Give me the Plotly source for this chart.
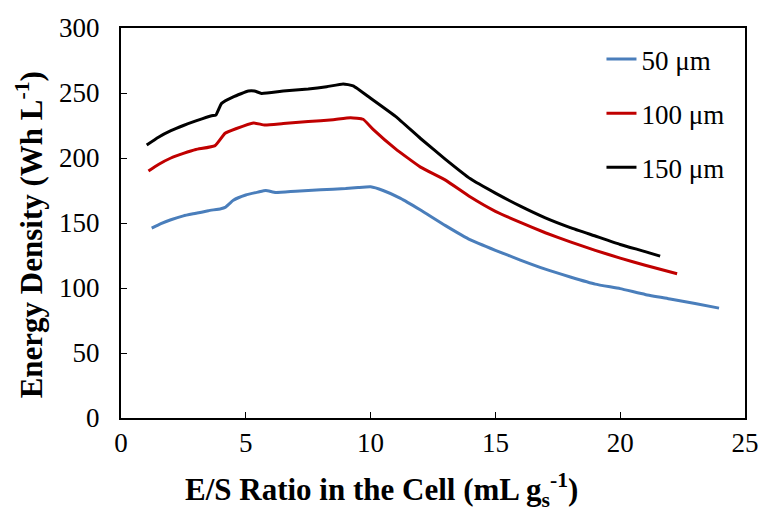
import plotly.graph_objects as go

# 50 um
x50 = [1.23, 1.6, 2.0, 2.5, 3.0, 3.5, 4.0, 4.17, 4.5, 5.0, 5.5, 5.8, 6.2, 7.0, 8.0, 9.0, 9.5, 10.0,
       10.5, 11.2, 12.0, 13.0, 14.0, 15.0, 16.0, 17.0, 18.0, 19.0, 20.0, 21.0, 22.0, 23.0, 23.96]
y50 = [146, 149.5, 152.5, 155.5, 157.5, 159.5, 161, 162, 167.5, 171.5, 173.8, 175, 173.5, 174.5, 175.5, 176.5, 177.3, 177.8,
       175, 169, 160, 148, 137, 129, 121.5, 114.5, 108.5, 103, 99.5, 95, 91.5, 88, 84.5]

# 100 um
x100 = [1.1, 1.5, 2.0, 2.5, 3.0, 3.77, 4.17, 4.6, 5.3, 5.77, 6.5, 7.5, 8.5, 9.2, 9.7, 10.1,
        11.0, 12.0, 13.0, 14.0, 15.0, 16.0, 17.0, 18.0, 19.0, 20.0, 21.0, 22.28]
y100 = [190, 195, 200, 203.5, 206.5, 209.5, 219, 222.5, 227, 225.3, 226.5, 228, 229.5, 231, 229.8, 222,
        207, 193, 183, 170, 159, 150.5, 142.5, 135.5, 129, 123, 117.5, 111]

# 150 um
x150 = [1.03, 1.5, 2.0, 2.5, 3.0, 3.63, 3.8, 4.03, 4.5, 5.1, 5.35, 5.63, 6.5, 7.5, 8.24, 8.9, 9.3,
        10.0, 11.0, 12.0, 13.0, 14.0, 15.0, 16.0, 17.0, 18.0, 19.0, 20.0, 21.0, 21.6]
y150 = [210, 216, 221, 225, 228.5, 232.5, 233, 242, 247, 251.5, 251.5, 249.7, 251.5, 253, 254.8, 257, 255.5,
        246, 232, 215, 199, 184, 173, 163, 154, 146.5, 140, 133.5, 128, 124.5]

names = ["50 μm", "100 μm", "150 μm"]
colors = ["#4A7EBB", "#C00000", "#000000"]
xs = [x50, x100, x150]
ys = [y50, y100, y150]

xticks = [0, 5, 10, 15, 20, 25]
yticks = [0, 50, 100, 150, 200, 250, 300]

x_title = "E/S Ratio in the Cell (mL g<sub>s</sub><sup>-1</sup>)"
y_title = "Energy Density (Wh L<sup>-1</sup>)"

font_family = "Liberation Serif"

fig = go.Figure()
for i in range(3):
    fig.add_trace(go.Scatter(x=xs[i], y=ys[i], mode="lines", name=names[i],
                             legendgroup=names[i],
                             line=dict(color=colors[i], width=3, shape="spline", smoothing=0.4)))

axis_common = dict(showgrid=False, zeroline=False, showline=True, linecolor="black", linewidth=2,
                   mirror=True, ticks="inside", ticklen=6, tickwidth=1, tickcolor="black",
                   automargin=False,
                   tickfont=dict(family=font_family, size=27, color="black"))

title_font = dict(family=font_family, size=31, color="black", weight="bold")

fig.update_layout(
    width=760, height=511,
    margin=dict(l=121, r=15, t=28, b=93),
    paper_bgcolor="white", plot_bgcolor="white",
    font=dict(family=font_family, color="black"),
    xaxis=dict(range=[0, 25], tickvals=xticks, ticktext=[str(t) for t in xticks],
               ticklabelstandoff=0, **axis_common),
    yaxis=dict(range=[0, 300], tickvals=yticks, ticktext=[str(t) for t in yticks],
               ticklabelstandoff=14, **axis_common),
    legend=dict(x=0.77, y=0.982, xanchor="left", yanchor="top",
                font=dict(family=font_family, size=27, color="black"),
                bgcolor="rgba(0,0,0,0)", traceorder="grouped", tracegroupgap=16),
    showlegend=True,
    annotations=[
        dict(text=x_title, xref="paper", yref="paper", x=0.4167, y=-0.184,
             xanchor="center", yanchor="middle", showarrow=False, font=title_font),
        dict(text=y_title, xref="paper", yref="paper", x=-0.147, y=0.469, textangle=-90,
             xanchor="center", yanchor="middle", showarrow=False, font=title_font),
    ],
)

fig.write_html("out.html")
